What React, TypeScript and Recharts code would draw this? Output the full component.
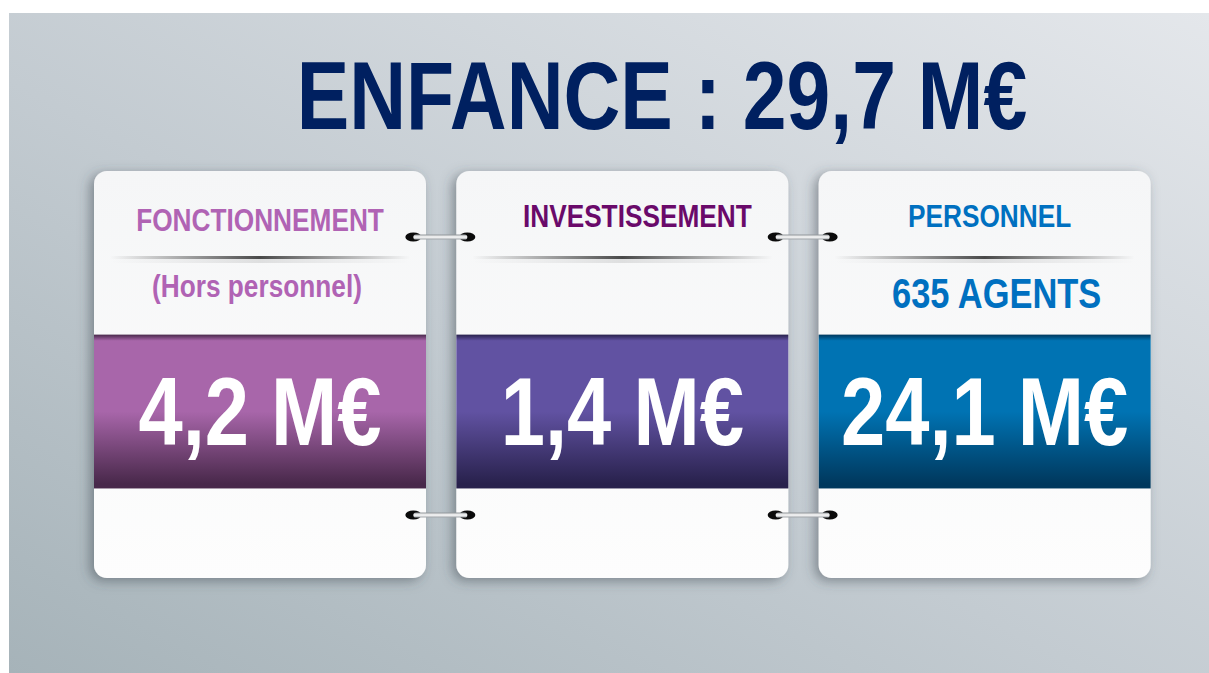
import React from 'react';
import { BarChart, Bar, XAxis, YAxis, Customized } from 'recharts';

// ---- data ----
const TITLE_LABEL = 'ENFANCE';
const TOTAL_AMOUNT = 29.7;
const categories = ['FONCTIONNEMENT', 'INVESTISSEMENT', 'PERSONNEL'];
const subtitles = ['(Hors personnel)', '', '635 AGENTS'];
const amounts = [4.2, 1.4, 24.1];
const panelSize = [1, 1, 1];

const fmt = (v: number) => `${v.toFixed(1).replace('.', ',')} M€`;

const data = categories.map((name, i) => ({
  name,
  sub: subtitles[i],
  amount: amounts[i],
  panel: panelSize[i],
}));

// ---- styles ----
const FONT = "'Liberation Sans', Arial, sans-serif";
const NARROW = 0.82;
const cardStyles = [
  { band: '#a866aa', dark: '#48284a', label: '#b063b4', labelDx: 0, labelDy: 60, subDx: -3, subSize: 32, subDy: 126 },
  { band: '#6152a2', dark: '#28214c', label: '#6a0a6a', labelDx: 15, labelDy: 56, subDx: 0, subSize: 32, subDy: 126 },
  { band: '#0073b3', dark: '#00385d', label: '#0070c0', labelDx: 5, labelDy: 56, subDx: 12, subSize: 42, subDy: 137 },
];

const narrowAt = (cx: number) => `translate(${cx},0) scale(${NARROW},1) translate(${-cx},0)`;

const Card = (props: any) => {
  const { x, y, width: w, height: h, index, payload } = props;
  const s = cardStyles[index];
  const r = 13;
  const cx = x + w / 2;
  const bandTop = y + h * 0.402;
  const bandBot = y + h * 0.78;
  const ring = (cy: number) => {
    const lx = x - 43;
    const rx = x + 11;
    return (
      <g>
        <ellipse cx={lx} cy={cy} rx={8} ry={4.6} fill="#0b0b0b" />
        <ellipse cx={rx} cy={cy} rx={8} ry={4.6} fill="#0b0b0b" />
        <rect x={lx} y={cy - 2.6} width={rx - lx} height={5.2} rx={2.6} fill="url(#ringbar)" />
      </g>
    );
  };
  const lx = cx + s.labelDx;
  const sx = cx + s.subDx;
  return (
    <g>
      <defs>
        <linearGradient id={`band${index}`} x1="0" y1="0" x2="0" y2="1">
          <stop offset="0" stopColor={s.dark} />
          <stop offset="0.04" stopColor={s.band} />
          <stop offset="0.5" stopColor={s.band} />
          <stop offset="0.97" stopColor={s.dark} />
          <stop offset="1" stopColor={s.dark} />
        </linearGradient>
        <linearGradient id={`paper${index}`} x1="0" y1="0" x2="0" y2="1">
          <stop offset="0" stopColor="#f5f6f7" />
          <stop offset="1" stopColor="#fdfdfd" />
        </linearGradient>
        <linearGradient id={`rule${index}`} x1="0" y1="0" x2="1" y2="0">
          <stop offset="0" stopColor="#3a3a3a" stopOpacity="0" />
          <stop offset="0.5" stopColor="#2a2a2a" stopOpacity="1" />
          <stop offset="1" stopColor="#3a3a3a" stopOpacity="0" />
        </linearGradient>
        <linearGradient id="ringbar" x1="0" y1="0" x2="0" y2="1">
          <stop offset="0" stopColor="#8e9397" />
          <stop offset="0.5" stopColor="#ffffff" />
          <stop offset="1" stopColor="#9ea3a7" />
        </linearGradient>
        <filter id={`sh${index}`} x="-20%" y="-20%" width="140%" height="140%">
          <feDropShadow dx="-4" dy="3" stdDeviation="6" floodColor="#3b4650" floodOpacity="0.5" />
        </filter>
      </defs>
      <rect x={x} y={y} width={w} height={h} rx={r} ry={r} fill={`url(#paper${index})`} filter={`url(#sh${index})`} />
      <rect x={x} y={bandTop} width={w} height={bandBot - bandTop} fill={`url(#band${index})`} />
      <rect x={x + 16} y={y + 85} width={w - 32} height={3} fill={`url(#rule${index})`} opacity={0.85} />
      <rect x={x + 16} y={y + 88} width={w - 32} height={4} fill={`url(#rule${index})`} opacity={0.12} />
      <g transform={narrowAt(lx)}>
        <text x={lx} y={y + s.labelDy} textAnchor="middle" fontFamily={FONT} fontWeight="bold" fontSize={32} fill={s.label}>
          {payload.name}
        </text>
      </g>
      {payload.sub ? (
        <g transform={narrowAt(sx)}>
          <text x={sx} y={y + s.subDy} textAnchor="middle" fontFamily={FONT} fontWeight="bold" fontSize={s.subSize} fill={s.label}>
            {payload.sub}
          </text>
        </g>
      ) : null}
      <g transform={narrowAt(cx)}>
        <text x={cx} y={y + 274} textAnchor="middle" fontFamily={FONT} fontWeight="bold" fontSize={97} fill="#ffffff">
          {fmt(payload.amount)}
        </text>
      </g>
      {index > 0 ? ring(y + 66) : null}
      {index > 0 ? ring(y + 344) : null}
    </g>
  );
};

const Title = () => (
  <g transform={narrowAt(662)}>
    <text x={662} y={129} textAnchor="middle" fontFamily={FONT} fontWeight="bold" fontSize={96} fill="#002060">
      {`${TITLE_LABEL} : ${fmt(TOTAL_AMOUNT)}`}
    </text>
  </g>
);

export default function App() {
  return (
    <div style={{ position: 'absolute', left: 0, top: 0, width: 1209, height: 673, background: '#ffffff', overflow: 'hidden' }}>
      <div
        style={{
          position: 'absolute',
          left: 9,
          top: 13,
          width: 1200,
          height: 660,
          background: 'linear-gradient(to top right, #a6b3b9 0%, #c3cbd1 45%, #e4e7eb 100%)',
        }}
      />
      <div style={{ position: 'absolute', left: 0, top: 0 }}>
        <BarChart width={1209} height={673} data={data} margin={{ top: 171, right: 43, bottom: 95, left: 79 }} barSize={332}>
          <XAxis dataKey="name" hide />
          <YAxis hide domain={[0, 1]} />
          <Bar dataKey="panel" shape={Card} isAnimationActive={false} />
          <Customized component={Title} />
        </BarChart>
      </div>
    </div>
  );
}
